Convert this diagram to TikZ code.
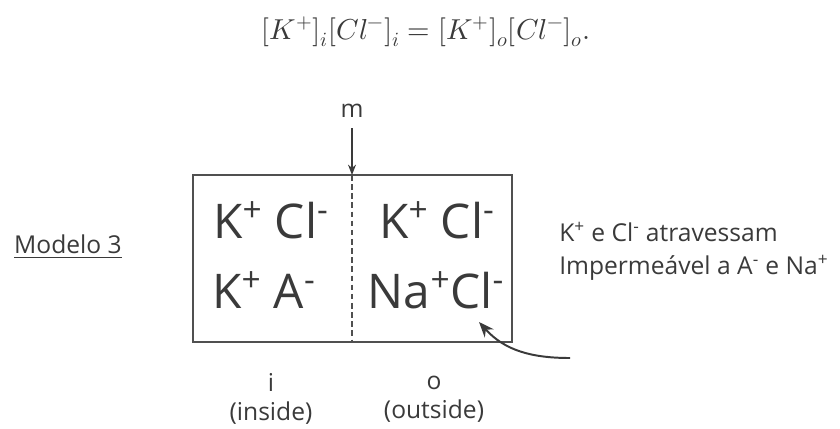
\documentclass[tikz,border=0pt]{standalone}
\usepackage{unicode-math}
\setmainfont{Open Sans}
\setmathfont{Latin Modern Math}
\usetikzlibrary{arrows.meta, positioning, calc}
\definecolor{cink}{HTML}{3A3A3A}
\definecolor{cline}{HTML}{505050}
\tikzset{
  every picture/.style={font=\fontsize{17.5}{21}\selectfont, text=cink},
  ion/.style={font=\fontsize{34}{40}\selectfont, inner sep=0pt},
  lbl/.style={font=\fontsize{17.5}{21}\selectfont, inner sep=0pt, align=center},
  arrow/.style={-{Stealth[length=3.8mm, width=3mm]}, draw=cink, line width=1.4pt},
}
\newcommand{\ionp}{\textsuperscript{+}}
\newcommand{\ionm}{\textsuperscript{-}}

\begin{document}
\begin{tikzpicture}[x=0.025cm, y=-0.025cm]
  \useasboundingbox (0,0) rectangle (840,428);
  % equation
  \node[inner sep=0pt, font=\fontsize{20.5}{25}\selectfont] (eq) at (426,32)
    {$[K^{+}]_{i}[Cl^{-}]_{i} = [K^{+}]_{o}[Cl^{-}]_{o}.$};
  % the cell with its membrane
  \node[draw=cline, line width=1.9pt, minimum width=7.975cm, minimum height=4.175cm] (cell) at (352.5,258.5) {};
  \draw[cline, line width=1.4pt, dash pattern=on 4pt off 2.5pt] (352,175) coordinate (mtop) -- (352,342) coordinate (mbot);
  \node[lbl] (m) at (352,111) {m};
  \coordinate (mfrom) at (352,128);
  \draw[arrow, line width=0.8pt, -{Stealth[length=2.6mm, width=2mm]}] (mfrom) -- (mtop);
  % ions on each side
  \node[ion] (li1) at (271,220) {K\ionp{} Cl\ionm};
  \node[ion] (li2) at (264,290) {K\ionp{} A\ionm};
  \node[ion] (ro1) at (437,220) {K\ionp{} Cl\ionm};
  \node[ion] (ro2) at (436,290) {Na\ionp{}Cl\ionm};
  % labels
  \node[lbl, anchor=east] (modelo) at (122,247) {\underline{Modelo 3}};
  \node[lbl, anchor=west, align=left, font=\fontsize{17.5}{23.5}\selectfont] (rule) at (559,251)
    {K\ionp{} e Cl\ionm{} atravessam\\Impermeável a A\ionm{} e Na\ionp};
  \node[lbl] (side-i) at (271,399) {i\\(inside)};
  \node[lbl] (side-o) at (434,399) {o\\(outside)};
  \coordinate (tail) at (570,358);
  \coordinate (tip) at (479,322);
  \draw[arrow] (tail) to[out=180, in=-48] (tip);
\end{tikzpicture}
\end{document}
